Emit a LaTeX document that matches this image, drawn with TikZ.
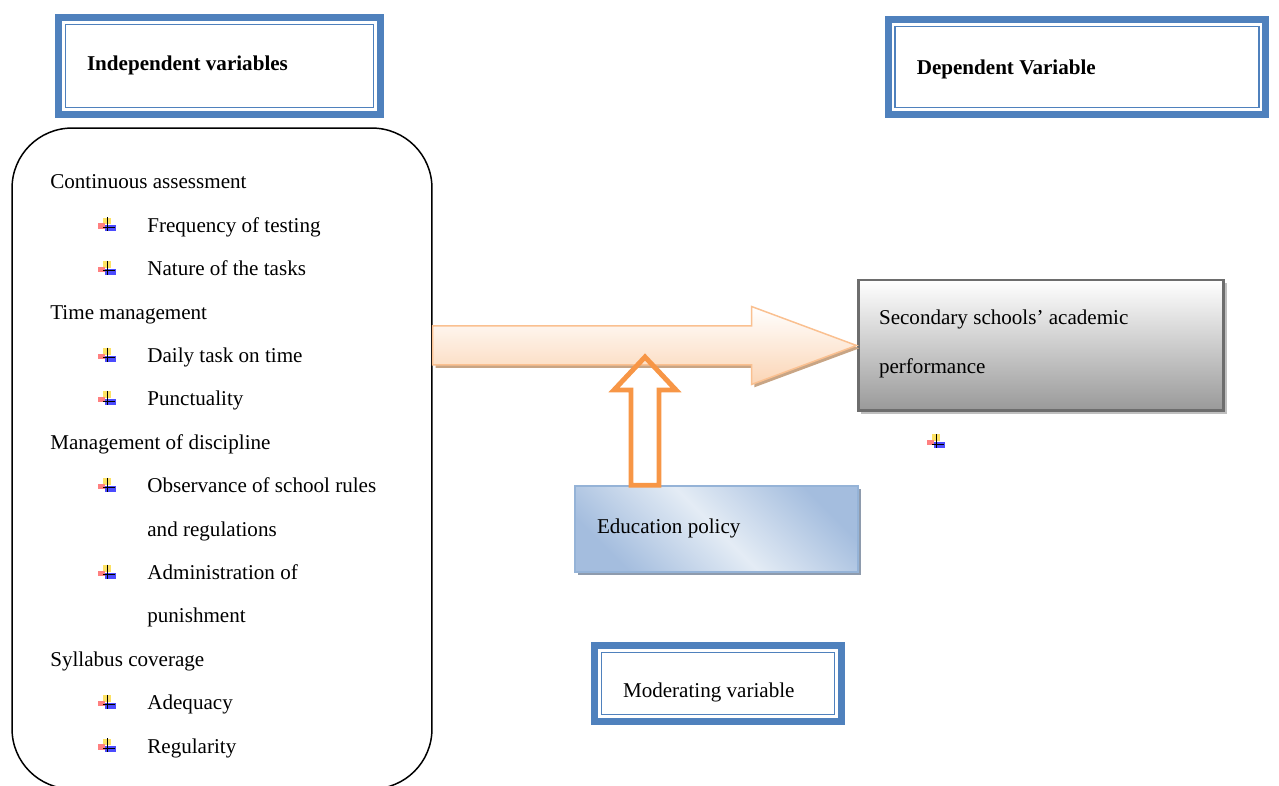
\documentclass[tikz,border=0pt]{standalone}
\usepackage{fontspec}
\setmainfont{Liberation Serif}
\usetikzlibrary{calc,positioning,shadows}
\definecolor{framecol}{HTML}{4F81BD}
\definecolor{peachedge}{HTML}{FAC090}
\definecolor{peachfill}{HTML}{FBD5B5}
\definecolor{peachshadow}{HTML}{C8A585}
\definecolor{policyorange}{HTML}{F79646}
\definecolor{eduedge}{HTML}{95B3D7}
\definecolor{edudark}{HTML}{A4BDDE}
\definecolor{edulight}{HTML}{E4ECF5}
\definecolor{edushadow}{HTML}{8E9BAD}
\definecolor{outedge}{HTML}{6D6D6D}
\definecolor{outshadow}{HTML}{BFBFBF}
% left-aligned text of given width, baseline moved by #2, no height of its own
\newcommand{\lefttext}[3]{\makebox[#1][l]{\raisebox{#2}[0pt][0pt]{#3}}}
\tikzset{
  plusmark/.pic={
    \fill[yellow!70!orange!60] (-4,-6.5) rectangle (3.5,0);
    \fill[red!50] (-9,-1) rectangle (-2,4.5);
    \fill[blue!70] (-2,1) rectangle (8.5,7);
    \draw[black, line width=0.5pt] (0,-7) -- (0,7) (-4,3) -- (8,3);
  }
}
\begin{document}
\fontsize{12}{14.5}\selectfont
\begin{tikzpicture}[
    x=0.02cm, y=-0.02cm,
    varbox/.style={draw=framecol, line width=4pt, inner xsep=0.57cm},
    itemtext/.style={anchor=base west, inner sep=0pt},
    bigarrow/.style={draw=peachedge, line width=0.85pt, line join=miter, top color=white, bottom color=peachfill,
        drop shadow={shadow xshift=1.6pt, shadow yshift=-1.6pt, fill=peachshadow, opacity=1}},
    policyarrow/.style={draw=policyorange, line width=2.8pt, line join=miter}
]
    \useasboundingbox (0,0) rectangle (1279,786);

    % Variable headings
    \node[varbox, minimum height=1.94cm, font=\bfseries] (indep) at (219.5,66) {\lefttext{5.30cm}{-2.8pt}{Independent variables}};
    \node[varbox, minimum height=1.9cm, font=\bfseries] (dep) at (1077,67) {\lefttext{6.41cm}{-4.5pt}{Dependent Variable}};
    \node[varbox, minimum height=1.52cm] (moder) at (718,683.5) {\lefttext{3.80cm}{-8.2pt}{Moderating variable}};
    \foreach \b in {indep,dep,moder}
        \draw[framecol, line width=0.9pt] ([shift={(10.5,10.5)}]\b.north west) rectangle ([shift={(-10.5,-10.5)}]\b.south east);

    % Independent variables
    \node[draw, line width=0.85pt, rounded corners=1.2cm, minimum width=8.4cm, minimum height=13.22cm] (factors) at (222,458.5) {};
    \foreach \lvl/\txt [count=\i from 0] in {0/Continuous assessment, 1/Frequency of testing, 1/Nature of the tasks,
        0/Time management, 1/Daily task on time, 1/Punctuality, 0/Management of discipline,
        1/Observance of school rules, 2/and regulations, 1/Administration of, 2/punishment,
        0/Syllabus coverage, 1/Adequacy, 1/Regularity} {
        \pgfmathsetmacro{\yy}{189+43.4*\i}
        \pgfmathsetmacro{\xx}{\lvl==0 ? 50 : 147}
        \node[itemtext] (item\i) at (\xx,\yy) {\txt};
        \ifnum\lvl=1 \pic at ([shift={(-40,-8)}]item\i.base west) {plusmark}; \fi
    }

    % Dependent variable
    \node[draw=outedge, line width=1.7pt, top color=white, bottom color=gray!80,
        drop shadow={shadow xshift=1.7pt, shadow yshift=-1.7pt, fill=outshadow, opacity=1},
        minimum width=7.32cm, minimum height=2.62cm, inner xsep=0.42cm] (outcome) at (1041,345.5)
        {\lefttext{6.48cm}{12.2pt}{\parbox[t]{6.48cm}{\fontsize{12}{28.4}\selectfont Secondary schools' academic\\performance}}};
    \pic (strayplus) at (936,441) {plusmark};

    % Moderating variable
    \node[draw=eduedge, line width=0.85pt, top color=edudark, bottom color=edudark, middle color=edulight, shading angle=-45,
        drop shadow={shadow xshift=1.7pt, shadow yshift=-1.7pt, fill=edushadow, opacity=1},
        minimum width=5.66cm, minimum height=1.72cm, inner xsep=0.44cm] (edu) at (716.5,529) {\lefttext{4.78cm}{-2.3pt}{Education policy}};

    % Main arrow
    \coordinate (arrowstart) at (factors.east |- outcome.west);
    \draw[bigarrow] ([shift={(0,-19.5)}]arrowstart) -- ([shift={(-105,-19.5)}]outcome.west)
        -- ([shift={(-105,-39)}]outcome.west) -- (outcome.west) -- ([shift={(-105,39)}]outcome.west)
        -- ([shift={(-105,19.5)}]outcome.west) -- ([shift={(0,19.5)}]arrowstart) -- cycle;

    % Policy arrow
    \coordinate (policytip) at (645,357);
    \coordinate (policybase) at (edu.north -| policytip);
    \draw[policyarrow] ([shift={(-14,0)}]policybase) -- ([shift={(-14,33)}]policytip) -- ([shift={(-31,33)}]policytip)
        -- (policytip) -- ([shift={(31,33)}]policytip) -- ([shift={(14,33)}]policytip)
        -- ([shift={(14,0)}]policybase) -- cycle;
\end{tikzpicture}
\end{document}
